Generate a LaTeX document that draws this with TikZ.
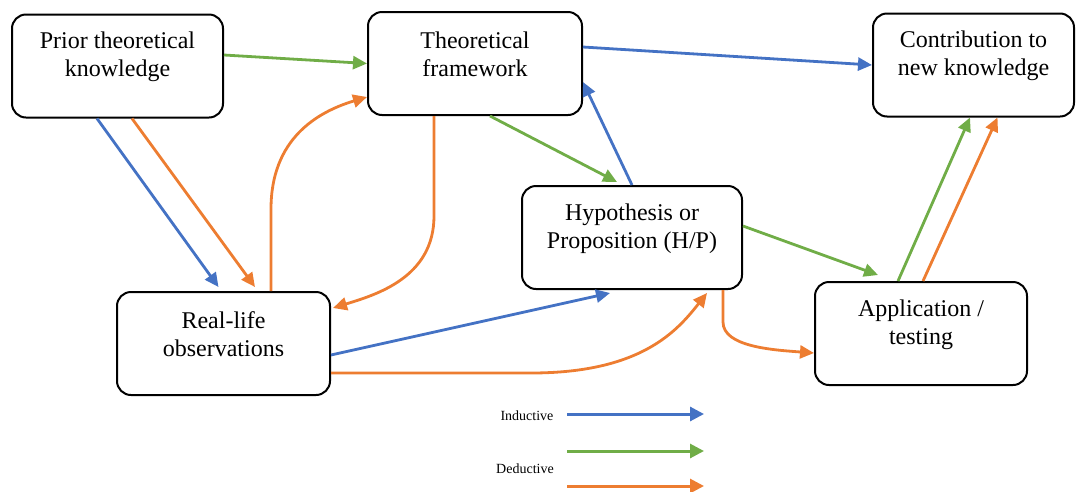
\documentclass[tikz,border=0pt]{standalone}
\usepackage{fontspec}
\setmainfont{Liberation Serif}
\usetikzlibrary{arrows.meta}
\definecolor{indblue}{HTML}{4472C4}
\definecolor{dedgreen}{HTML}{70AD47}
\definecolor{dedorange}{HTML}{ED7D31}
\begin{document}
\begin{tikzpicture}[x=1pt,y=-1pt,
  stage/.style={draw=black, line width=2pt, rounded corners=14pt, fill=white,
    inner sep=0pt, minimum height=103pt},
  stagetext/.style={font=\fontsize{24}{28}\selectfont, align=center, yshift=9pt},
  flow/.style={line width=2.8pt, -{Triangle[length=14pt,width=13pt]}},
  keyflow/.style={line width=3pt, -{Triangle[length=14pt,width=14pt]}},
  keytext/.style={font=\fontsize{14}{16}\selectfont},
  ind/.style={flow, draw=indblue},
  dedg/.style={flow, draw=dedgreen},
  dedo/.style={flow, draw=dedorange},
]
\useasboundingbox (0,0) rectangle (1076,491);

% stages
\node[stage, minimum width=211pt, label={[stagetext]center:Prior theoretical\\knowledge}] (prior) at (117.5,66) {};
\node[stage, minimum width=214pt, label={[stagetext]center:Theoretical\\framework}] (theo) at (475,63.5) {};
\node[stage, minimum width=201pt, label={[stagetext]center:Contribution to\\new knowledge}] (contrib) at (973.5,65) {};
\node[stage, minimum width=220pt, label={[stagetext]center:Hypothesis or\\Proposition (H/P)}] (hyp) at (632,237.5) {};
\node[stage, minimum width=213pt, label={[stagetext]center:Real-life\\observations}] (real) at (223.5,343.5) {};
\node[stage, minimum width=212pt, label={[stagetext]center:Application /\\testing}] (app) at (921,333.5) {};

% inductive links
\draw[ind] ([xshift=-20.5pt]prior.south) -- ([xshift=-5pt,yshift=4pt]real.north);
\draw[ind] (hyp.north) -- ([yshift=-18.5pt]theo.east);
\draw[ind] ([yshift=16.5pt]theo.east) -- (contrib.west);
\draw[ind] ([yshift=-11.5pt]real.east) -- ([xshift=-22pt,yshift=-3pt]hyp.south);

% deductive links (green)
\draw[dedg] ([yshift=11pt]prior.east) -- (theo.west);
\draw[dedg] ([xshift=15pt]theo.south) -- ([xshift=-15pt,yshift=3pt]hyp.north);
\draw[dedg] ([yshift=11.5pt]hyp.east) -- ([xshift=-43pt,yshift=6pt]app.north);
\draw[dedg] ([xshift=-23pt]app.north) -- ([xshift=-3.5pt]contrib.south);

% deductive links (orange)
\draw[dedo] ([xshift=14.5pt]prior.south) -- ([xshift=31.5pt,yshift=4pt]real.north);
\draw[dedo] ([xshift=47.5pt]real.north) -- ++(0,-82)
  .. controls +(0,-70) and +(-50,15) .. ([yshift=-33.5pt]theo.west);
\draw[dedo] ([xshift=-41pt]theo.south) -- ++(0,100)
  .. controls +(0,62) and +(42,-13) .. ([xshift=2pt,yshift=35.5pt]real.east);
\draw[dedo] ([yshift=-29.5pt]real.east) -- ++(200,0)
  .. controls +(110,0) and +(-30,38) .. ([xshift=75pt,yshift=-3pt]hyp.south);
\draw[dedo] ([xshift=91pt]hyp.south) -- ++(0,32)
  .. controls +(0,25) and +(-40,-3) .. ([yshift=-19.5pt]app.west);
\draw[dedo] ([xshift=2pt]app.north) -- ([xshift=24pt]contrib.south);

% key
\node[keytext] (kind) at (527,416) {Inductive};
\node[keytext] (kded) at (525,469) {Deductive};
\coordinate (kb0) at (567,414);  \coordinate (kb1) at (704,414);
\coordinate (kg0) at (567,451);  \coordinate (kg1) at (704,451);
\coordinate (ko0) at (567,486);  \coordinate (ko1) at (704,486);
\draw[keyflow, draw=indblue] (kb0) -- (kb1);
\draw[keyflow, draw=dedgreen] (kg0) -- (kg1);
\draw[keyflow, draw=dedorange] (ko0) -- (ko1);
\end{tikzpicture}
\end{document}
